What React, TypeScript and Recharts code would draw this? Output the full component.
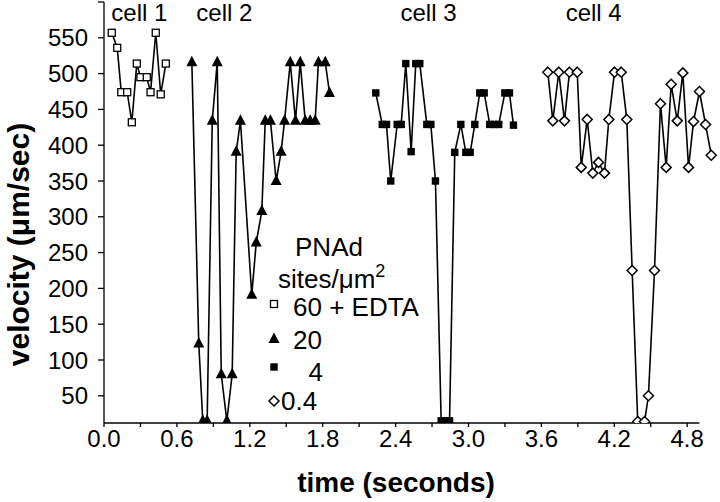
import { LineChart, Line, XAxis, YAxis, ReferenceLine, ReferenceDot } from 'recharts';

// cell 1: 60 sites/um2 + EDTA
const cell1Time = [0.064, 0.109, 0.142, 0.191, 0.229, 0.27, 0.3, 0.352, 0.383, 0.426, 0.467, 0.509];
const cell1Velocity = [557, 536, 474, 474, 432, 514, 495, 495, 474, 557, 471, 514];

// cell 2: 20 sites/um2
const cell2Time = [
  0.723, 0.78, 0.813, 0.849, 0.891, 0.932, 0.965, 1.011, 1.055, 1.088, 1.123, 1.216, 1.253, 1.299,
  1.327, 1.37, 1.417, 1.458, 1.486, 1.533, 1.576, 1.615, 1.656, 1.697, 1.738, 1.765, 1.821, 1.856,
];
const cell2Velocity = [
  516, 123, 15, 15, 434, 516, 80, 15, 80, 391, 434, 191, 264, 308,
  434, 434, 350, 391, 434, 516, 434, 516, 434, 434, 434, 516, 516, 473,
];

// cell 3: 4 sites/um2
const cell3Time = [
  2.237, 2.29, 2.325, 2.36, 2.413, 2.446, 2.484, 2.528, 2.566, 2.599, 2.657, 2.69, 2.728, 2.775, 2.811,
  2.844, 2.887, 2.937, 2.978, 3.014, 3.052, 3.093, 3.129, 3.175, 3.214, 3.249, 3.299, 3.337, 3.37,
];
const cell3Velocity = [
  473, 429, 429, 350, 429, 429, 514, 391, 514, 514, 429, 429, 350, 15, 15,
  15, 390, 429, 390, 390, 429, 473, 473, 429, 429, 429, 473, 473, 428,
];

// cell 4: 0.4 sites/um2
const cell4Time = [
  3.653, 3.694, 3.743, 3.79, 3.831, 3.895, 3.928, 3.977, 4.023, 4.07, 4.119, 4.155, 4.202, 4.257, 4.303,
  4.347, 4.393, 4.449, 4.481, 4.531, 4.58, 4.627, 4.668, 4.718, 4.764, 4.811, 4.852, 4.901, 4.951, 4.998,
];
const cell4Velocity = [
  502, 434, 502, 434, 502, 502, 369, 436, 361, 376, 361, 436, 502, 502, 436,
  225, 14, 14, 50, 225, 458, 369, 485, 434, 501, 369, 433, 475, 429, 386,
];

const xTicks = [0, 0.3, 0.6, 0.9, 1.2, 1.5, 1.8, 2.1, 2.4, 2.7, 3.0, 3.3, 3.6, 3.9, 4.2, 4.5, 4.8];
const yTicks = [50, 100, 150, 200, 250, 300, 350, 400, 450, 500, 550, 600];

const cellNames = ['cell 1', 'cell 2', 'cell 3', 'cell 4'];
const cellNameTime = [0.06, 0.76, 2.44, 3.8];

const toPoints = (times: number[], vels: number[]) => times.map((t, i) => ({ t, v: vels[i] }));

const cell1 = toPoints(cell1Time, cell1Velocity);
const cell2 = toPoints(cell2Time, cell2Velocity);
const cell3 = toPoints(cell3Time, cell3Velocity);
const cell4 = toPoints(cell4Time, cell4Velocity);

const openSquare = (cx: number, cy: number, key?: any) => (
  <rect key={key} x={cx - 3.5} y={cy - 3.5} width={7} height={7} fill="#fff" stroke="#000" strokeWidth={1.3} />
);
const triangle = (cx: number, cy: number, key?: any) => (
  <path key={key} d={`M${cx},${cy - 6.5}L${cx + 5.5},${cy + 4}L${cx - 5.5},${cy + 4}Z`} fill="#000" />
);
const filledSquare = (cx: number, cy: number, key?: any) => (
  <rect key={key} x={cx - 3.7} y={cy - 3.7} width={7.4} height={7.4} fill="#000" />
);
const diamond = (cx: number, cy: number, key?: any) => (
  <path
    key={key}
    d={`M${cx},${cy - 5}L${cx + 5},${cy}L${cx},${cy + 5}L${cx - 5},${cy}Z`}
    fill="#fff"
    stroke="#000"
    strokeWidth={1.5}
  />
);

const dotOf = (draw: (cx: number, cy: number, key?: any) => any) => (p: any) => draw(p.cx, p.cy, p.index);

const fmtX = (v: number) => (Math.round(v * 10) % 6 === 0 ? v.toFixed(1) : '');
const fmtY = (v: number) => (v === 600 ? '' : String(v));

const YTitle = ({ viewBox }: any) => (
  <text
    transform={`translate(${viewBox.x + 18}, ${viewBox.y + viewBox.height / 2 + 32}) rotate(-90)`}
    textAnchor="middle"
    dominantBaseline="central"
    fontSize={30}
    fontWeight="bold"
    fill="#000"
  >
    velocity (μm/sec)
  </text>
);

const XTitle = ({ viewBox }: any) => (
  <text x={viewBox.x + viewBox.width / 2 - 16} y={viewBox.y + 69} textAnchor="middle" fontSize={28} fontWeight="bold" fill="#000">
    time (seconds)
  </text>
);

export default function App() {
  return (
    <div style={{ position: 'absolute', left: 0, top: 0, width: 720, height: 502, fontFamily: '"Liberation Sans", Arial, sans-serif', background: '#fff' }}>
      <LineChart width={720} height={502} margin={{ top: 2, right: 0, left: 0, bottom: 0 }}>
        <XAxis
          type="number"
          dataKey="t"
          domain={[0, 5.07]}
          ticks={xTicks}
          tickFormatter={fmtX}
          interval={0}
          axisLine={false}
          tickLine={{ stroke: '#000', strokeWidth: 1.3 }}
          tickSize={4}
          tickMargin={3}
          height={79}
          tick={{ fill: '#000', fontSize: 24 }}
          label={<XTitle />}
          allowDataOverflow
        />
        <YAxis
          type="number"
          domain={[12, 600]}
          ticks={yTicks}
          tickFormatter={fmtY}
          interval={0}
          width={104}
          axisLine={{ stroke: '#000', strokeWidth: 1.3 }}
          tickLine={{ stroke: '#000', strokeWidth: 1.3 }}
          tickSize={6}
          tickMargin={10}
          tick={{ fill: '#000', fontSize: 24 }}
          label={<YTitle />}
          allowDataOverflow
        />
        <ReferenceLine segment={[{ x: 0, y: 12 }, { x: 4.9, y: 12 }]} stroke="#000" strokeWidth={1.3} />
        {cellNames.map((name, i) => (
          <ReferenceDot
            key={name}
            x={cellNameTime[i]}
            y={585}
            r={0}
            fill="none"
            stroke="none"
            label={{ value: name, position: 'right', offset: 0, fill: '#000', fontSize: 24 }}
          />
        ))}
        <Line data={cell1} dataKey="v" type="linear" stroke="#000" strokeWidth={1.6} dot={dotOf(openSquare)} isAnimationActive={false} />
        <Line data={cell2} dataKey="v" type="linear" stroke="#000" strokeWidth={1.6} dot={dotOf(triangle)} isAnimationActive={false} />
        <Line data={cell3} dataKey="v" type="linear" stroke="#000" strokeWidth={1.6} dot={dotOf(filledSquare)} isAnimationActive={false} />
        <Line data={cell4} dataKey="v" type="linear" stroke="#000" strokeWidth={1.6} dot={dotOf(diamond)} isAnimationActive={false} />
      </LineChart>
      <svg width={720} height={502} style={{ position: 'absolute', left: 0, top: 0, pointerEvents: 'none' }}>
        <g fontSize={26} fill="#000">
          <text x={329} y={256} textAnchor="middle">PNAd</text>
          <text x={278} y={288}>
            sites/μm<tspan fontSize={18} dy={-11}>2</tspan>
          </text>
          {openSquare(274, 304)}
          <text x={293} y={316}>60 + EDTA</text>
          {triangle(274, 339)}
          <text x={293} y={349}>20</text>
          {filledSquare(274, 367)}
          <text x={323} y={381} textAnchor="end">4</text>
          {diamond(274, 401)}
          <text x={281} y={410}>0.4</text>
        </g>
      </svg>
    </div>
  );
}
